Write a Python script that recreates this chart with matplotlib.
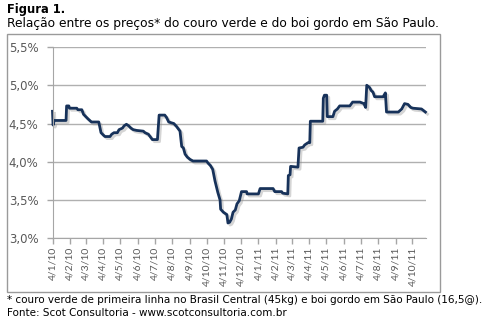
import matplotlib
matplotlib.use("Agg")
import matplotlib.pyplot as plt
import matplotlib.patheffects as pe
import pandas as pd
from matplotlib.patches import Rectangle
from matplotlib.ticker import FuncFormatter

# relação couro verde / boi gordo (%), datas dd/mm
dates = [
    "2010-01-04", "2010-01-05", "2010-01-07", "2010-01-28", "2010-01-29",
    "2010-02-02", "2010-02-03", "2010-02-16", "2010-02-18", "2010-02-25",
    "2010-02-28", "2010-03-04", "2010-03-08", "2010-03-14", "2010-03-27",
    "2010-03-31", "2010-04-04", "2010-04-07", "2010-04-16", "2010-04-19",
    "2010-04-23", "2010-04-29", "2010-05-02", "2010-05-08", "2010-05-11",
    "2010-05-15", "2010-05-19", "2010-05-23", "2010-05-27", "2010-06-02",
    "2010-06-14", "2010-06-17", "2010-06-23", "2010-06-26", "2010-06-30",
    "2010-07-09", "2010-07-12", "2010-07-22", "2010-07-25", "2010-07-29",
    "2010-08-07", "2010-08-12", "2010-08-18", "2010-08-21", "2010-08-24",
    "2010-08-27", "2010-08-31", "2010-09-05", "2010-09-10", "2010-10-04",
    "2010-10-07", "2010-10-11", "2010-10-15", "2010-10-19", "2010-10-24",
    "2010-10-28", "2010-10-29", "2010-11-03", "2010-11-09", "2010-11-11",
    "2010-11-14", "2010-11-17", "2010-11-20", "2010-11-24", "2010-11-27",
    "2010-12-01", "2010-12-05", "2010-12-14", "2010-12-15", "2011-01-04",
    "2011-01-07", "2011-01-30", "2011-02-02", "2011-02-14", "2011-02-16",
    "2011-02-25", "2011-02-26", "2011-03-01", "2011-03-02", "2011-03-15",
    "2011-03-17", "2011-03-24", "2011-03-27", "2011-04-02", "2011-04-05",
    "2011-04-06", "2011-04-28", "2011-04-29", "2011-05-01", "2011-05-05",
    "2011-05-06", "2011-05-16", "2011-05-19", "2011-05-24", "2011-05-28",
    "2011-06-15", "2011-06-20", "2011-07-03", "2011-07-10", "2011-07-13",
    "2011-07-15", "2011-07-20", "2011-07-23", "2011-07-26", "2011-07-29",
    "2011-08-13", "2011-08-17", "2011-08-19", "2011-09-09", "2011-09-15",
    "2011-09-20", "2011-09-26", "2011-10-01", "2011-10-05", "2011-10-20",
    "2011-10-27",
]
ratio = [
    4.66, 4.48, 4.54, 4.54, 4.73,
    4.73, 4.70, 4.70, 4.68, 4.68,
    4.62, 4.59, 4.56, 4.52, 4.52,
    4.38, 4.35, 4.33, 4.33, 4.36,
    4.38, 4.38, 4.42, 4.44, 4.47,
    4.49, 4.47, 4.44, 4.42, 4.41,
    4.40, 4.38, 4.36, 4.33, 4.29,
    4.29, 4.61, 4.61, 4.58, 4.52,
    4.50, 4.46, 4.40, 4.20, 4.18,
    4.10, 4.06, 4.03, 4.01, 4.01,
    3.98, 3.95, 3.90, 3.75, 3.60,
    3.50, 3.38, 3.34, 3.31, 3.20,
    3.21, 3.25, 3.34, 3.37, 3.45,
    3.49, 3.61, 3.61, 3.58, 3.58,
    3.65, 3.65, 3.61, 3.61, 3.59,
    3.58, 3.82, 3.83, 3.94, 3.93,
    4.18, 4.19, 4.22, 4.25, 4.25,
    4.53, 4.53, 4.83, 4.87, 4.87,
    4.59, 4.59, 4.66, 4.69, 4.73,
    4.73, 4.78, 4.78, 4.76, 4.71,
    5.00, 4.97, 4.93, 4.91, 4.85,
    4.85, 4.90, 4.65, 4.65, 4.69,
    4.76, 4.75, 4.71, 4.70, 4.69,
    4.65,
]

x = pd.to_datetime(dates)
W, H = 497, 323

fig = plt.figure(figsize=(W / 100, H / 100), dpi=100)
fig.patch.set_facecolor("white")

# moldura do gráfico
fig.patches.append(Rectangle((7 / W, 1 - 292 / H), 433 / W, 258 / H,
                             transform=fig.transFigure, fill=False,
                             edgecolor="#9a9a9a", linewidth=1.0))

ax = fig.add_axes([52.5 / W, 1 - 238.3 / H, 373.5 / W, 191.3 / H])
ax.plot(x, ratio, color="#17325a", linewidth=2.0, solid_joinstyle="round",
        clip_on=False,
        path_effects=[pe.SimpleLineShadow(offset=(1.5, -1.5), shadow_color="#888888", alpha=0.35),
                      pe.Normal()])

ax.set_ylim(3.0, 5.5)
ax.set_yticks([3.0, 3.5, 4.0, 4.5, 5.0, 5.5])
ax.yaxis.set_major_formatter(FuncFormatter(lambda v, p: f"{v:.1f}%".replace(".", ",")))
ax.set_xlim(pd.Timestamp("2010-01-04"), pd.Timestamp("2011-10-28"))
# ticks mensais no dia 4
ticks = pd.date_range("2010-01-01", "2011-10-01", freq="MS") + pd.Timedelta(days=3)
ax.set_xticks(ticks)
ax.set_xticklabels([f"{d.day}/{d.month}/{d.strftime('%y')}" for d in ticks],
                   rotation=90, fontsize=7.5, color="#595959", family="Lato")
for lab in ax.get_yticklabels():
    lab.set_fontsize(8.5)
    lab.set_color("#595959")

ax.grid(axis="y", color="#b0b0b0", linewidth=1.0)
ax.set_axisbelow(True)
for s in ["top", "right"]:
    ax.spines[s].set_visible(False)
for s in ["left", "bottom"]:
    ax.spines[s].set_color("#a6a6a6")
ax.tick_params(axis="both", colors="#a6a6a6", length=4, width=1.0, direction="out")
ax.tick_params(axis="x", labelcolor="#595959", pad=2)
ax.tick_params(axis="y", labelcolor="#595959", pad=6)

fig.text(7 / W, 1 - 10 / H, "Figura 1.", fontsize=8.3, fontweight="bold", va="center", ha="left")
fig.text(7 / W, 1 - 23 / H, "Relação entre os preços* do couro verde e do boi gordo em São Paulo.",
         fontsize=8.8, va="center", ha="left")
fig.text(7 / W, 1 - 300 / H,
         "* couro verde de primeira linha no Brasil Central (45kg) e boi gordo em São Paulo (16,5@).",
         fontsize=7.5, va="center", ha="left")
fig.text(7 / W, 1 - 313 / H, "Fonte: Scot Consultoria - www.scotconsultoria.com.br",
         fontsize=7.5, va="center", ha="left")

fig.savefig("out.png", dpi=100)
